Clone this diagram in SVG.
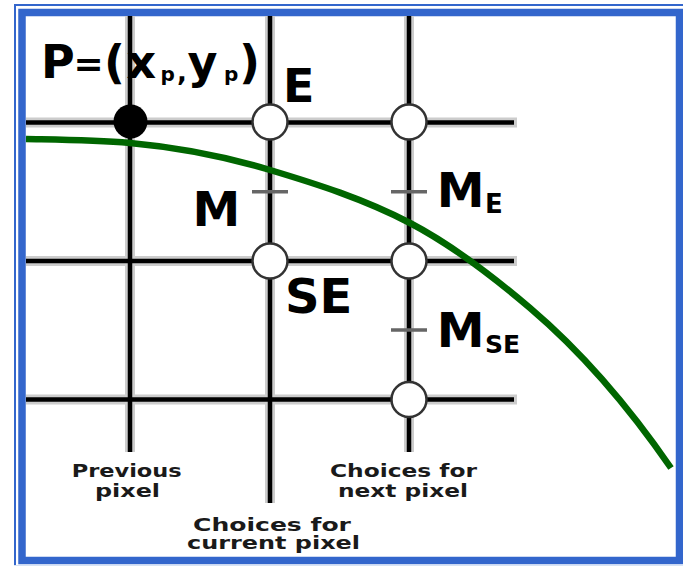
<svg xmlns="http://www.w3.org/2000/svg" width="683" height="566" viewBox="0 0 683 566">
<style>
.halo{stroke:#cccccc;stroke-width:10;fill:none}
.ln{stroke:#000;stroke-width:4.5;fill:none}
.tick{stroke:#666;stroke-width:3.5;fill:none}
.pt{fill:#fff;stroke:#333;stroke-width:2.5}
.big{font-family:"DejaVu Sans","Liberation Sans",sans-serif;font-weight:bold;fill:#000}
.small{font-family:"DejaVu Sans","Liberation Sans",sans-serif;font-weight:bold;font-size:17px;fill:#1a1a1a}
</style>
<rect width="683" height="566" fill="#fff"/>
<g id="frame">
<path d="M15,566V5H683" fill="none" stroke="#3366cc" stroke-width="2"/>
<rect x="22" y="12.5" width="657.5" height="548" fill="none" stroke="#3366cc" stroke-width="7.5"/>
<path d="M14,565.5H683" stroke="#d6e2f5" stroke-width="1"/>
</g>
<g id="connectors">
<path class="halo" d="M26,122.5H517M26,261H517M26,399.5H517M130,16V452M270,16V503M409,16V452"/>
<path class="ln" d="M26,122.5H514M26,261H514M26,399.5H514M130,16V452M270,16V503M409,16V452"/>
<path class="tick" d="M252,191.7H288M391,191.7H427M391,330H427"/>
</g>
<g id="node-P"><circle cx="130.5" cy="121.5" r="17" fill="#000"/></g>
<g id="node-E"><circle class="pt" cx="270" cy="122" r="17.5"/></g>
<g id="node-SE"><circle class="pt" cx="270" cy="261" r="17.5"/></g>
<g id="node-next-E"><circle class="pt" cx="409" cy="122" r="17.5"/></g>
<g id="node-next-M"><circle class="pt" cx="409" cy="261" r="17.5"/></g>
<g id="node-next-SE"><circle class="pt" cx="409" cy="399.5" r="17.5"/></g>
<g id="curve">
<path d="M26,139 C60.67,139.69 95.33,139.88 130,143 C176.67,147.2 223.33,156 270,170 C316.67,184 363.33,198.73 410,223 C450,243.8 490,274 530,308 C577,347.95 624,399.85 671,468" fill="none" stroke="#006600" stroke-width="6.5"/>
</g>
<g id="labels">
<text class="big" font-size="46" y="78.3"><tspan x="41">P</tspan><tspan x="73.5" y="76" font-size="36">=</tspan><tspan x="104" y="78.3">(</tspan><tspan x="126.5">x</tspan><tspan x="160.5" y="81" font-size="20">p</tspan><tspan x="177" y="81" font-size="26">,</tspan><tspan x="187.5" y="78.3">y</tspan><tspan x="224" y="81" font-size="20">p</tspan><tspan x="239" y="78.3">)</tspan></text>
<text class="big" font-size="46" x="283" y="102">E</text>
<text class="big" font-size="48" x="192.4" y="226">M</text>
<text class="big" font-size="48" x="285" y="313.3">SE</text>
<text class="big" font-size="48" x="436.7" y="206.7">M<tspan x="485" y="213" font-size="26">E</tspan></text>
<text class="big" font-size="48" x="436.7" y="346.7">M<tspan x="485" y="353" font-size="25">SE</tspan></text>
<text class="small" x="71.7" y="477" textLength="110" lengthAdjust="spacingAndGlyphs">Previous</text>
<text class="small" x="95" y="496.5" textLength="65" lengthAdjust="spacingAndGlyphs">pixel</text>
<text class="small" x="330" y="477" textLength="147" lengthAdjust="spacingAndGlyphs">Choices for</text>
<text class="small" x="338" y="496.5" textLength="130" lengthAdjust="spacingAndGlyphs">next pixel</text>
<text class="small" x="193" y="530.5" textLength="158" lengthAdjust="spacingAndGlyphs">Choices for</text>
<text class="small" x="187" y="548.5" textLength="173" lengthAdjust="spacingAndGlyphs">current pixel</text>
</g>
</svg>
